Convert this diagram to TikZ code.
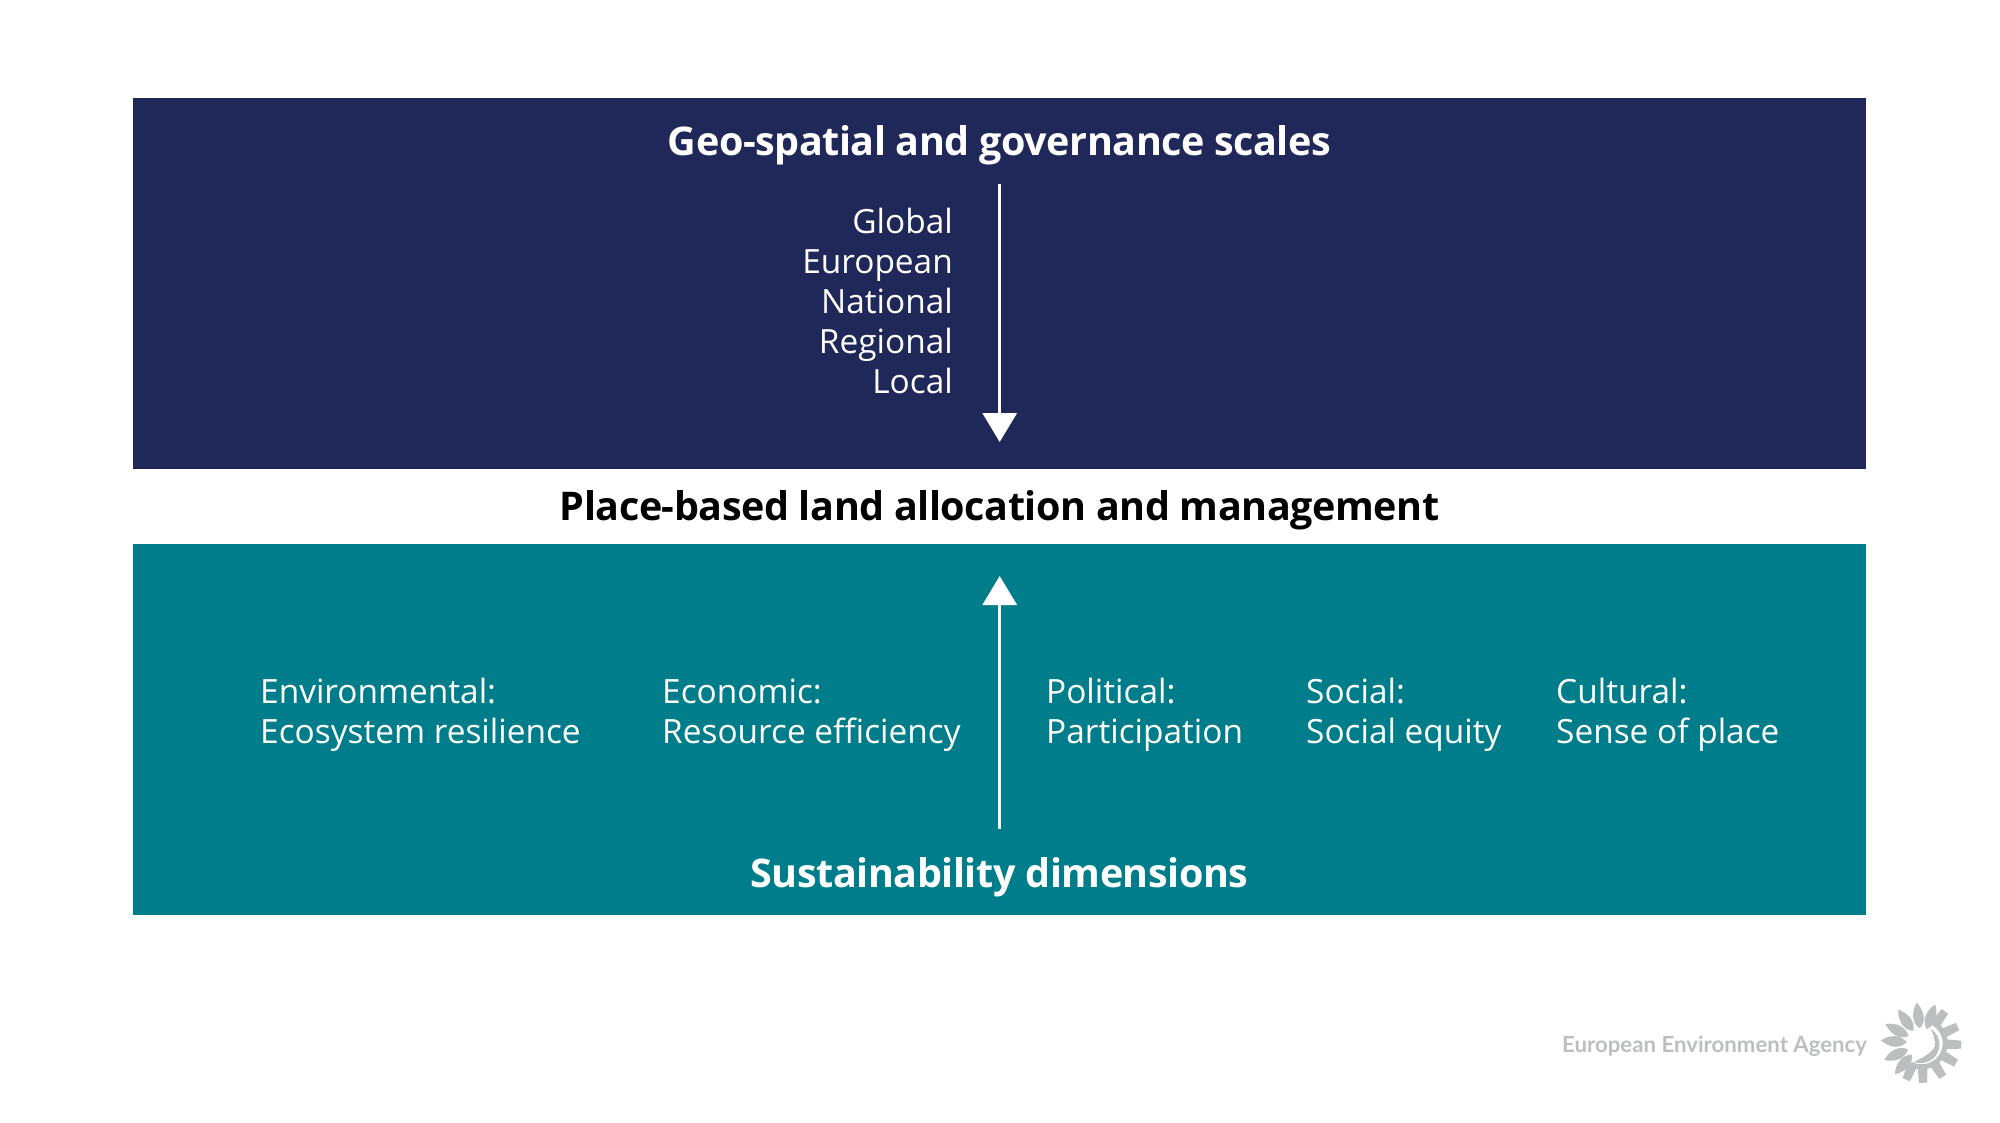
\documentclass[tikz,border=0pt]{standalone}
\usepackage{fontspec}
\usetikzlibrary{arrows.meta}
\setmainfont{Open Sans}
\newfontfamily\semifont[LetterSpace=-1.15]{Open Sans Bold}
\newfontfamily\logofont{Lato}
\definecolor{navy}{HTML}{1F2859}
\definecolor{teal2}{HTML}{007D8A}
\definecolor{logogrey}{HTML}{BCBEC0}
\tikzset{
  x=1pt,y=-1pt,
  band/.style={draw=none,minimum width=1733pt,minimum height=371pt,inner sep=0pt,outer sep=0pt},
  heading/.style={inner sep=0pt,font=\semifont\fontsize{39.5}{48}\selectfont,text=white},
  body/.style={inner sep=0pt,font=\fontsize{33.4}{40}\selectfont,text=white,align=left,anchor=base west},
  flow/.style={draw=white,line width=3.4pt,-{Triangle[length=29pt,width=34pt]}},
  petal/.style={fill=logogrey,draw=none},
}
\begin{document}
\begin{tikzpicture}
\useasboundingbox (0,0) rectangle (2000,1123);
\fill[white] (0,0) rectangle (2000,1123);
\node[band,fill=navy] (top) at (999.5,283.5) {};
\node[band,fill=teal2] (bottom) at (999.5,729) {};
\node[heading,anchor=base] (h1) at (999.5,155.5) {Geo-spatial and governance scales};
\node[heading,anchor=base,text=black] (h2) at (999.5,520) {Place-based land allocation and management};
\node[heading,anchor=base] (h3) at (999.5,887) {Sustainability dimensions};
\node[body,align=right,anchor=base east] (l1) at (953,234) {Global};
\node[body,align=right,anchor=base east] (l2) at (953,274) {European};
\node[body,align=right,anchor=base east] (l3) at (953,313) {National};
\node[body,align=right,anchor=base east] (l4) at (953,353) {Regional};
\node[body,align=right,anchor=base east] (l5) at (953,393) {Local};
\coordinate (a1) at (999.7,184);
\coordinate (a2) at (999.7,442);
\coordinate (b1) at (999.7,829);
\coordinate (b2) at (999.7,576);
\draw[flow] (a1) -- (a2);
\draw[flow] (b1) -- (b2);
\node[body] (d1) at (260,743) {Environmental:\\Ecosystem resilience};
\node[body] (d2) at (662,743) {Economic:\\Resource efficiency};
\node[body] (d3) at (1046,743) {Political:\\Participation};
\node[body] (d4) at (1306,743) {Social:\\Social equity};
\node[body] (d5) at (1556,743) {Cultural:\\Sense of place};
\node[inner sep=0pt,anchor=base west,text=logogrey,font=\logofont\fontsize{22.2}{26}\selectfont\bfseries] (eea) at (1562,1052) {European Environment Agency};
\begin{scope}[shift={(1921.7,1043.3)},y=1pt]
  \foreach \a in {71,97,125,152,176,204,229}{
    \fill[petal,rotate=\a] (15,0) .. controls (22,-8) and (33,-6) .. (41,0) .. controls (33,6) and (22,8) .. (15,0) -- cycle;
  }
  \foreach \a in {54,25,-2,-30,-58,-88,-113}{
    \fill[petal,rotate=\a] (22,-5) -- (39.5,-4) -- (39.5,4) -- (22,5) -- cycle;
  }
  \fill[petal] (62:26) arc[start angle=62,end angle=-118,radius=26] -- (-118:21) arc[start angle=-118,end angle=62,radius=21] -- cycle;
  \fill[petal] (58:17) arc[start angle=58,end angle=-112,radius=18.5] .. controls (-60:14) and (-20:15) .. (0:13.5) .. controls (15:13.5) and (40:15) .. cycle;
\end{scope}
\end{tikzpicture}
\end{document}
